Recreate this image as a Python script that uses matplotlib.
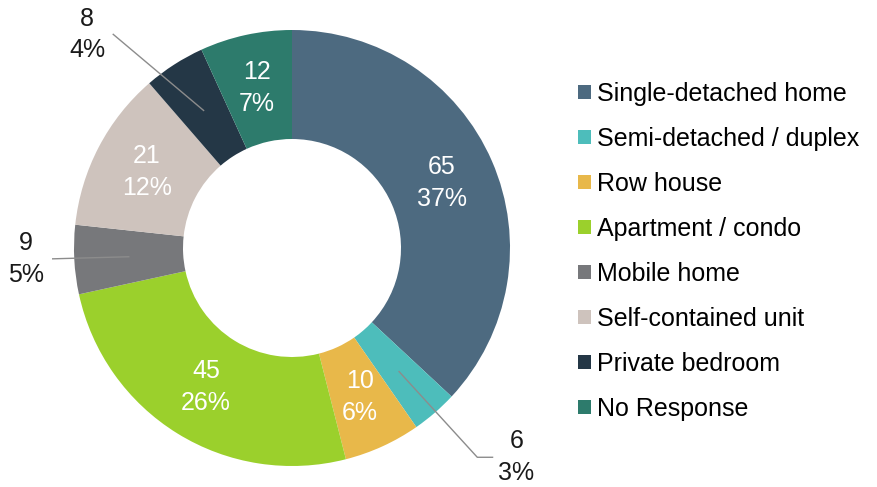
import matplotlib.pyplot as plt
import numpy as np

plt.rcParams['font.family'] = ['Liberation Sans', 'DejaVu Sans']

categories = ['Single-detached home', 'Semi-detached / duplex', 'Row house',
              'Apartment / condo', 'Mobile home', 'Self-contained unit',
              'Private bedroom', 'No Response']
counts = [65, 6, 10, 45, 9, 21, 8, 12]
percents = ['37%', '3%', '6%', '26%', '5%', '12%', '4%', '7%']
colors = ['#4d6a80', '#4dbdbb', '#e8b84a', '#9bd02c', '#77787b', '#cec3bd',
          '#243746', '#2d7b6c']

# labels placed outside the ring (index -> text position in data units)
outside = {1: (1.03, -0.96), 4: (-1.22, -0.05), 6: (-0.94, 0.98)}

fig = plt.figure(figsize=(8.78, 4.87), dpi=100)
R = 218.0
ax = fig.add_axes([(292 - 240) / 878, (487 - 248 - 240) / 487, 480 / 878, 480 / 487])

wedges, _ = ax.pie(counts, colors=colors, startangle=90, counterclock=False,
                   radius=1.0, wedgeprops=dict(width=0.5, edgecolor='none'))
ax.set_xlim(-240 / R, 240 / R)
ax.set_ylim(-240 / R, 240 / R)
ax.set_aspect('equal')
ax.axis('off')

fs = 18
for i, w in enumerate(wedges):
    mid = np.deg2rad((w.theta1 + w.theta2) / 2)
    mx, my = 0.75 * np.cos(mid), 0.75 * np.sin(mid)
    label = f'{counts[i]}\n{percents[i]}'
    if i in outside:
        tx, ty = outside[i]
        if i == 1:
            ax.plot([mx, tx - 0.18, tx - 0.11], [my, ty, ty],
                    color='#8c8c8c', lw=1)
        elif i == 4:
            ax.plot([mx, tx + 0.11], [my, ty], color='#8c8c8c', lw=1)
        else:
            ax.plot([mx, tx + 0.12], [my, ty], color='#8c8c8c', lw=1)
        ax.text(tx, ty, label, ha='center', va='center', fontsize=fs,
                color='#1a1a1a', linespacing=1.4)
    else:
        ax.text(mx, my, label, ha='center', va='center', fontsize=fs,
                color='white', linespacing=1.4)

fig.legend(wedges, categories, loc='upper left', bbox_to_anchor=(568 / 878, 1 - 72 / 487),
           frameon=False, fontsize=fs, handlelength=0.5, handleheight=0.5,
           handletextpad=0.27, labelspacing=0.84, borderaxespad=0)

fig.savefig('out.png', dpi=100)
